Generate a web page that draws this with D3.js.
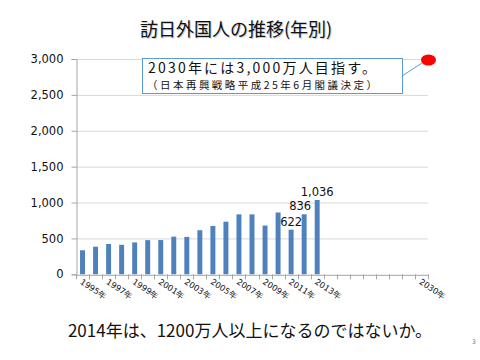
<!DOCTYPE html>
<html><head><meta charset="utf-8">
<script src="https://cdn.jsdelivr.net/npm/d3@7/dist/d3.min.js"></script>
<style>
html,body{margin:0;padding:0;background:#fff;}
svg{display:block;}
</style>
</head><body>
<svg id="c" width="480" height="360"></svg>
<script>
// ---- data ----
const categories = ["1995年","1996年","1997年","1998年","1999年","2000年","2001年","2002年","2003年","2004年",
  "2005年","2006年","2007年","2008年","2009年","2010年","2011年","2012年","2013年",
  "","","","","","","","2030年"];
const visitors = [335,384,422,411,444,476,477,524,521,614,673,733,835,835,679,861,622,836,1036,
  null,null,null,null,null,null,null,null];
const labelledValues = [null,null,null,null,null,null,null,null,null,null,null,null,null,null,null,null,622,836,1036,
  null,null,null,null,null,null,null,null];
const yTicks = [0,500,1000,1500,2000,2500,3000];
const goalValue = 3000;
const titleText = "訪日外国人の推移(年別)";
const noteLine1 = "2030年には3,000万人目指す。";
const noteLine2 = "（日本再興戦略平成25年6月閣議決定）";
const footerText = "2014年は、1200万人以上になるのではないか。";
const pageNo = "3";

// ---- layout ----
const svg = d3.select("#c");
const pLeft = 76, pRight = 428, pTop = 59, pBottom = 274.3;
const jp = "'Noto Sans CJK JP', 'Noto Sans', sans-serif";
const num = "'DejaVu Sans', Verdana, sans-serif";

const x = d3.scaleBand().domain(d3.range(categories.length)).range([pLeft, pRight])
  .paddingInner(0.62).paddingOuter(0.31);
const y = d3.scaleLinear().domain([0, 3000]).range([pBottom, pTop]);

// title with shadow
svg.append("text").attr("x", 237).attr("y", 37).attr("text-anchor","middle")
  .attr("font-family", jp).attr("font-size", 18).attr("fill", "#cccccc").text(titleText);
svg.append("text").attr("x", 236).attr("y", 36).attr("text-anchor","middle")
  .attr("font-family", jp).attr("font-size", 18).attr("fill", "#111").text(titleText);

// gridlines
svg.append("g").selectAll("line").data(yTicks.filter(d => d > 0)).join("line")
  .attr("x1", pLeft).attr("x2", pRight).attr("y1", d => y(d) + 0.5).attr("y2", d => y(d) + 0.5)
  .attr("stroke", "#d9d9d9").attr("stroke-width", 1);

// y axis
const yAxis = svg.append("g").attr("transform", `translate(${pLeft + 0.5},0)`)
  .call(d3.axisLeft(y).tickValues(yTicks).tickFormat(d3.format(",")).tickSize(5).tickPadding(8));
yAxis.select(".domain").attr("stroke", "#a6a6a6");
yAxis.selectAll(".tick line").attr("stroke", "#a6a6a6");
yAxis.selectAll(".tick text").attr("font-family", num).attr("font-size", 11.5).attr("fill", "#111");

// bars
svg.append("g").selectAll("rect").data(visitors.map((v, i) => ({v, i})).filter(d => d.v != null)).join("rect")
  .attr("x", d => x(d.i)).attr("width", x.bandwidth())
  .attr("y", d => y(d.v)).attr("height", d => y(0) - y(d.v))
  .attr("fill", "#4f81bd");

// x axis
const xAxis = svg.append("g").attr("transform", `translate(0,${pBottom + 0.5})`)
  .call(d3.axisBottom(x).tickSize(0).tickFormat(""));
xAxis.select(".domain").attr("stroke", "#a6a6a6");
const step = x.step();
svg.append("g").selectAll("line").data(d3.range(categories.length + 1)).join("line")
  .attr("x1", i => Math.round(pLeft + i * step) + 0.5).attr("x2", i => Math.round(pLeft + i * step) + 0.5)
  .attr("y1", pBottom).attr("y2", pBottom + 5).attr("stroke", "#a6a6a6");

svg.append("g").selectAll("text").data(categories.map((c, i) => ({c, i})).filter(d => d.i % 2 === 0 && d.c)).join("text")
  .attr("transform", d => `translate(${x(d.i) + x.bandwidth() / 2 - 3},${pBottom + 9}) rotate(33)`)
  .attr("font-family", num).attr("font-size", 8.3).attr("fill", "#111")
  .text(d => d.c);

// data labels
svg.append("g").selectAll("text").data(labelledValues.map((v, i) => ({v, i})).filter(d => d.v != null)).join("text")
  .attr("x", d => x(d.i) + x.bandwidth() / 2 + (d.v === 836 ? -4 : 0))
  .attr("y", d => y(d.v) - 4)
  .attr("text-anchor", "middle").attr("font-family", num).attr("font-size", 11.5).attr("fill", "#111")
  .text(d => d3.format(",")(d.v));

// goal marker and note box
const goalX = x(categories.length - 1) + x.bandwidth() / 2 + 7;
svg.append("line").attr("x1", 402).attr("y1", 76).attr("x2", goalX - 5).attr("y2", y(goalValue) + 3)
  .attr("stroke", "#5b9bd5").attr("stroke-width", 1);
svg.append("rect").attr("x", 142.5).attr("y", 58.5).attr("width", 260).attr("height", 35)
  .attr("fill", "#fff").attr("stroke", "#5b9bd5").attr("stroke-width", 1);
svg.append("ellipse").attr("cx", goalX).attr("cy", y(goalValue) + 1).attr("rx", 7.5).attr("ry", 5.5)
  .attr("fill", "#ff0000");
svg.append("text").attr("x", 148).attr("y", 73).attr("font-family", jp).attr("font-size", 14)
  .attr("fill", "#111").attr("textLength", 228).attr("lengthAdjust", "spacing").text(noteLine1);
svg.append("text").attr("x", 147).attr("y", 88.5).attr("font-family", jp).attr("font-size", 10.5)
  .attr("fill", "#111").attr("textLength", 230).attr("lengthAdjust", "spacing").text(noteLine2);

// footer
svg.append("text").attr("x", 250).attr("y", 337).attr("text-anchor", "middle")
  .attr("font-family", jp).attr("font-size", 17).attr("fill", "#111").text(footerText);
svg.append("text").attr("x", 474).attr("y", 344).attr("text-anchor", "middle")
  .attr("font-family", num).attr("font-size", 6).attr("fill", "#777").text(pageNo);
</script>
</body></html>
